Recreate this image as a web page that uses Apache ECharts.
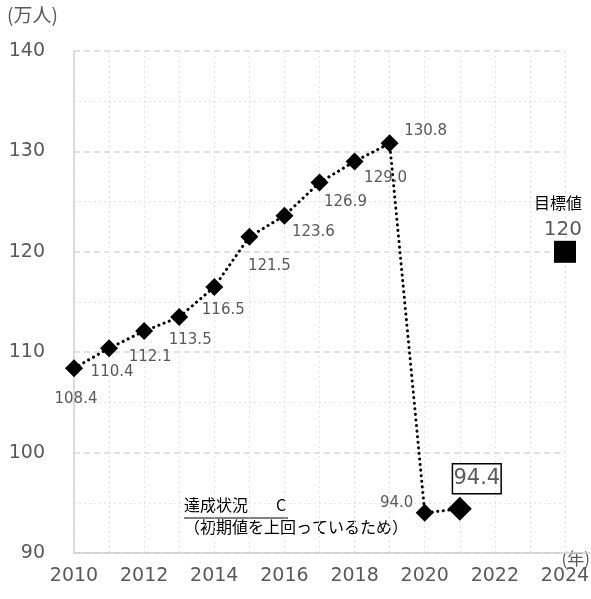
<!DOCTYPE html>
<html><head><meta charset="utf-8">
<script src="https://cdn.jsdelivr.net/npm/echarts@6/dist/echarts.min.js"></script>
<style>html,body{margin:0;padding:0;background:#fff}#c{width:591px;height:599px}</style>
</head><body><div id="c"></div>
<script>
const years = [2010,2011,2012,2013,2014,2015,2016,2017,2018,2019,2020,2021];
const visitors = [108.4,110.4,112.1,113.5,116.5,121.5,123.6,126.9,129.0,130.8,94.0,94.4];
const targetYear = 2024;
const targetValue = 120;
const targetTitle = '目標値';
const yTicks = [90,100,110,120,130,140];
const xTicks = [2010,2012,2014,2016,2018,2020,2022,2024];
const yUnit = '(万人)';
const xUnit = '(年)';
const noteLine1 = '達成状況';
const noteGrade = 'C';
const noteLine2 = '（初期値を上回っているため）';

// label placement (styling only)
const labelOffsets = [[2,31],[3,24],[6,26],[11,23],[9,23],[20,29],[29,16],[26,20],[31,17],[36,-12],[-28,-10],[17,-30]];

const NUM = 'DejaVu Sans';
const JP = '"Noto Sans CJK JP"';
const GREY = '#595959';

const chart = echarts.init(document.getElementById('c'));
const lineData = years.map((y,i) => {
  const last = i === years.length - 1;
  const item = { value: [y, visitors[i]],
    label: { offset: labelOffsets[i] } };
  if (last) {
    item.symbolSize = 24;
    item.label = { offset: labelOffsets[i], fontSize: 21, borderColor: '#000', borderWidth: 1.5, padding: [6,1,3,1], color: GREY };
  }
  return item;
});

chart.setOption({
  animation: false,
  grid: { left: 74, right: 26, top: 51, bottom: 46, outerBoundsMode: 'none', containLabel: false },
  xAxis: {
    type: 'value', min: xTicks[0], max: xTicks[xTicks.length-1], interval: 2,
    axisLine: { show: true, lineStyle: { color: '#d0d0d0', width: 1.5 } },
    axisTick: { show: false },
    axisLabel: { color: GREY, fontSize: 19, fontFamily: NUM, margin: 14, formatter: v => String(v) },
    splitLine: { show: true, lineStyle: { color: '#e3e3e3', type: [2,3], width: 1 } },
    minorTick: { show: false, splitNumber: 2 },
    minorSplitLine: { show: true, lineStyle: { color: '#e3e3e3', type: [2,3], width: 1 } }
  },
  yAxis: {
    type: 'value', min: yTicks[0], max: yTicks[yTicks.length-1], interval: 10,
    axisLine: { show: true, lineStyle: { color: '#d0d0d0', width: 1.5 } },
    axisTick: { show: false },
    axisLabel: { color: GREY, fontSize: 19, fontFamily: NUM, margin: 29 },
    splitLine: { show: true, lineStyle: { color: '#d9d9d9', type: [6,4], width: 1.5 } },
    minorTick: { show: false, splitNumber: 2 },
    minorSplitLine: { show: true, lineStyle: { color: '#e3e3e3', type: [2,3], width: 1 } }
  },
  series: [
    {
      type: 'line', data: lineData, symbol: 'diamond', symbolSize: 18,
      itemStyle: { color: '#000' },
      lineStyle: { color: '#000', width: 3, type: [0.1, 5.5], cap: 'round' },
      label: { show: true, position: 'inside', color: GREY, fontSize: 15, fontFamily: NUM,
        formatter: p => p.value[1].toFixed(1) },
      z: 3
    },
    {
      type: 'scatter', data: [[targetYear, targetValue]], symbol: 'rect', symbolSize: 22,
      itemStyle: { color: '#000', opacity: 1 },
      label: { show: true, position: [28, 3], align: 'right', verticalAlign: 'bottom',
        formatter: () => '{a|' + targetTitle + '}\n{b|' + targetValue + '}',
        rich: {
          a: { fontFamily: JP, fontSize: 16, color: '#000', lineHeight: 26, align: 'right' },
          b: { fontFamily: NUM, fontSize: 20, color: GREY, lineHeight: 28, align: 'right' }
        } }
    }
  ],
  graphic: [
    { type: 'text', left: 7, top: 5, style: { text: yUnit, fontFamily: JP, fontSize: 19, fill: GREY } },
    { type: 'text', right: 1, top: 550, style: { text: xUnit, fontFamily: JP, fontSize: 17, fill: GREY } },
    { type: 'line', shape: { x1: 565, y1: 553, x2: 591, y2: 553 }, style: { stroke: '#d0d0d0', lineWidth: 1.5 } },
    { type: 'text', left: 184, top: 497, style: { text: noteLine1, fontFamily: JP, fontSize: 16, fill: '#000' } },
    { type: 'text', left: 276, top: 497, style: { text: noteGrade, fontFamily: JP, fontSize: 16, fill: '#000' } },
    { type: 'line', shape: { x1: 184, y1: 518, x2: 288, y2: 518 }, style: { stroke: '#000', lineWidth: 1 } },
    { type: 'text', left: 184, top: 519, style: { text: noteLine2, fontFamily: JP, fontSize: 16, fill: '#000' } }
  ]
});
</script></body></html>
